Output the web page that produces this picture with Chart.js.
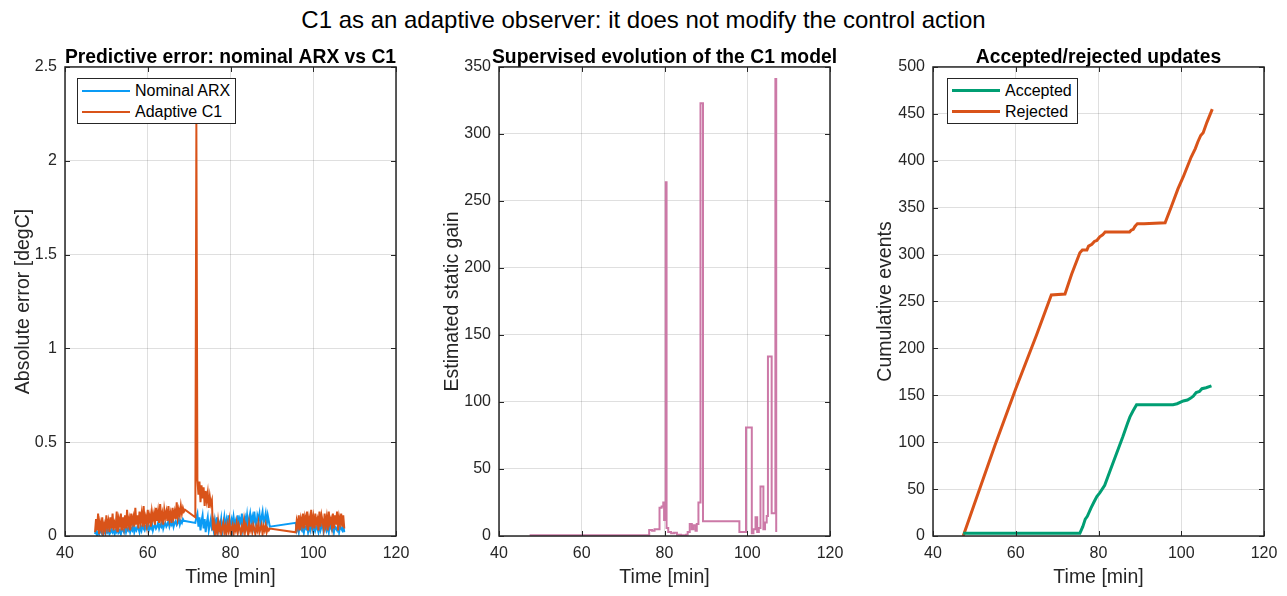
<!DOCTYPE html>
<html>
<head>
<meta charset="utf-8">
<title>C1 adaptive observer</title>
<script src="https://cdn.jsdelivr.net/npm/chart.js@4.4.0/dist/chart.umd.min.js"></script>
<style>
  html, body { margin: 0; padding: 0; background: #fff; }
  body { width: 1287px; height: 596px; position: relative; overflow: hidden;
         font-family: "Liberation Sans", Arial, sans-serif; }
  #suptitle { position: absolute; left: 0; top: 8px; width: 1287px; text-align: center;
              font-size: 24px; line-height: 24px; color: #000; }
  canvas { position: absolute; top: 40px; }
  .legend { position: absolute; top: 78px; background: #fff; border: 1px solid #262626;
            padding: 1px 5px 1px 4px; font-size: 16px; color: #000; }
  .legend .row { display: flex; align-items: center; height: 21px; white-space: nowrap; }
  .legend .swatch { display: inline-block; width: 48px; margin-right: 5px; }
</style>
</head>
<body>
<div id="suptitle">C1 as an adaptive observer: it does not modify the control action</div>

<canvas id="errChart" width="471" height="556" style="left:-5px"></canvas>
<canvas id="gainChart" width="471" height="556" style="left:429px"></canvas>
<canvas id="countChart" width="471" height="556" style="left:863px"></canvas>

<div class="legend" style="left:77px">
  <div class="row"><span class="swatch" style="height:2px;background:#0A9BF5"></span>Nominal ARX</div>
  <div class="row"><span class="swatch" style="height:2px;background:#D95319"></span>Adaptive C1</div>
</div>
<div class="legend" style="left:947px">
  <div class="row"><span class="swatch" style="height:3px;background:#009E73"></span>Accepted</div>
  <div class="row"><span class="swatch" style="height:3px;background:#D95319"></span>Rejected</div>
</div>

<script>
// ---- data ---------------------------------------------------------------
// predictive error, sampled every 0.25 min in three logged stretches
var sampleMin = 0.25;
var segStart = [47.25, 71.5, 95.75];

var nominalA = [0.01,0.03,0.00,0.02,0.01,0.04,0.02,0.01,0.03,0.02,
  0.01,0.04,0.02,0.03,0.01,0.02,0.04,0.02,0.03,0.01,
  0.03,0.02,0.05,0.02,0.03,0.01,0.04,0.03,0.02,0.05,
  0.02,0.04,0.03,0.05,0.02,0.04,0.03,0.06,0.02,0.04,
  0.03,0.05,0.04,0.02,0.05,0.03,0.06,0.04,0.03,0.05,
  0.04,0.06,0.03,0.05,0.04,0.07,0.03,0.05,0.06,0.04,
  0.05,0.07,0.04,0.06,0.05,0.08,0.04,0.06,0.07,0.05,
  0.06,0.08,0.05,0.07,0.06,0.09,0.05,0.07,0.08,0.06,
  0.07,0.09,0.06,0.08,0.07,0.09,0.08,0.08];
var nominalB = [0.07,0.10,
  0.12,0.05,0.10,0.03,0.08,0.11,0.04,0.09,0.02,0.07,0.10,0.03,0.06,0.09,0.04,
  0.05,0.02,0.08,0.04,0.10,0.03,0.07,0.05,0.09,0.02,
  0.06,0.10,0.04,0.08,0.03,0.11,0.05,0.07,0.09,0.04,
  0.10,0.06,0.08,0.03,0.11,0.05,0.09,0.07,0.12,0.04,
  0.08,0.10,0.06,0.11,0.05,0.09,0.12,0.07,0.10,0.06,
  0.13,0.08,0.05,0.11,0.09,0.12,0.06,0.10,0.13,0.07,
  0.09,0.12,0.06,0.11,0.08,0.05];
var nominalC = [0.07,0.03,0.05,0.02,0.06,0.04,0.03,0.07,0.02,0.05,
  0.04,0.06,0.02,0.05,0.03,0.07,0.04,0.02,0.06,0.03,
  0.05,0.04,0.02,0.06,0.03,0.05,0.07,0.02,0.04,0.06,
  0.03,0.05,0.02,0.07,0.04,0.03,0.06,0.02,0.05,0.04,
  0.03,0.06,0.02,0.05,0.04,0.03,0.06,0.02];

var adaptiveA = [0.02,0.09,0.03,0.12,0.01,0.07,0.04,0.10,0.02,0.06,
  0.03,0.11,0.05,0.08,0.02,0.10,0.04,0.12,0.03,0.07,
  0.05,0.13,0.02,0.09,0.06,0.12,0.03,0.10,0.05,0.11,
  0.04,0.14,0.06,0.09,0.03,0.12,0.07,0.10,0.05,0.15,
  0.06,0.11,0.04,0.13,0.08,0.12,0.05,0.16,0.07,0.10,
  0.06,0.14,0.08,0.11,0.05,0.13,0.09,0.12,0.06,0.15,
  0.08,0.13,0.07,0.17,0.09,0.12,0.06,0.14,0.10,0.13,
  0.08,0.16,0.09,0.12,0.07,0.15,0.10,0.13,0.09,0.18,
  0.10,0.14,0.11,0.16,0.12,0.15,0.13,0.14];
var adaptiveB = [0.10,2.20,0.30,
  0.22,0.29,0.18,0.27,0.20,0.26,0.16,0.24,0.19,0.23,0.15,0.21,0.17,0.19,
  0.03,0.07,0.01,0.05,0.02,0.08,0.03,0.06,0.01,0.04,
  0.07,0.02,0.05,0.01,0.06,0.03,0.08,0.02,0.04,0.06,
  0.01,0.05,0.03,0.07,0.02,0.06,0.04,0.01,0.05,0.03,
  0.08,0.02,0.06,0.04,0.01,0.07,0.03,0.05,0.02,0.06,
  0.04,0.01,0.05,0.03,0.07,0.02,0.04,0.06,0.01,0.05,
  0.03,0.06,0.02,0.04,0.03,0.04];
var adaptiveC = [0.02,0.08,0.05,0.11,0.03,0.09,0.06,0.12,0.04,0.10,
  0.07,0.13,0.03,0.09,0.05,0.14,0.06,0.10,0.04,0.12,
  0.07,0.09,0.03,0.13,0.05,0.11,0.08,0.04,0.12,0.06,
  0.10,0.03,0.13,0.07,0.09,0.05,0.12,0.04,0.11,0.06,
  0.13,0.03,0.10,0.07,0.12,0.05,0.11,0.04];

// estimated static gain of the C1 model (held between updates)
var gainTime = [47.4,76.3,77.0,77.6,78.8,79.3,79.7,79.9,80.3,80.5,80.9,81.6,82.3,83.0,84.0,
  85.2,85.6,86.1,86.6,87.0,87.5,87.8,88.2,88.7,89.3,98.1,99.7,101.1,101.5,102.0,
  102.4,102.8,103.2,103.9,104.3,104.7,105.0,105.9,106.8,107.0];
var gainValue = [0.5,4.5,4,5,21,22,25,12,264,6,3,2,2.5,1,0.5,
  1,3,9,5,8,4,9,25,323,11,3,81,2,5,14,
  3,6,37,5,10,15,134,17,341,3];

// cumulative accepted / rejected updates
var acceptedTime = [47.3,75.5,76.2,76.8,77.3,78.2,79.0,79.6,80.3,81.5,83.0,85.9,87.0,87.6,
  88.3,89.2,98.0,99.0,100.5,101.5,102.3,102.9,103.6,104.4,105.0,106.0,107.3];
var acceptedCount = [3,3,10,18,21,30,37,42,46,54,72,106,120,127,
  133,140,140,141,144,145,147,149,153,154,157,158,160];
var rejectedTime = [47.3,50.0,55.0,60.0,65.0,68.6,71.9,73.5,75.5,76.1,77.2,77.6,78.4,79.0,
  79.6,80.3,81.0,81.6,87.5,87.9,88.4,88.8,89.4,91.0,96.1,97.5,99.2,100.5,102.4,
  103.4,104.0,104.7,105.3,106.2,107.5];
var rejectedCount = [0,34,97,157,214,257,258,279,302,305,305,309,311,314,
  315,319,321,324,324,326,327,330,333,333,334,350,370,383,404,
  413,420,427,430,441,455];

// ---- helpers -------------------------------------------------------------
var FONT = '"Liberation Sans", Arial, sans-serif';
var AXIS = '#262626';
var GRID = 'rgba(38,38,38,0.15)';

function sampled(segments) {
  var pts = [];
  segments.forEach(function(vals, k) {
    vals.forEach(function(v, i) {
      pts.push({ x: segStart[k] + i * sampleMin, y: v });
    });
  });
  return pts;
}

function pairs(xs, ys) {
  return xs.map(function(x, i) { return { x: x, y: ys[i] }; });
}

// plain number labels like MATLAB: 0, 0.5, 1, 1.5 ...
function plainTick(v) { return String(+v.toFixed(3)); }

// MATLAB-like box with inward ticks on all four sides
var axesBox = {
  id: 'axesBox',
  afterDatasetsDraw: function(chart) {
    var ctx = chart.ctx, a = chart.chartArea, sx = chart.scales.x, sy = chart.scales.y;
    var tl = 5;
    ctx.save();
    ctx.strokeStyle = AXIS;
    ctx.lineWidth = 1;
    ctx.beginPath();
    sx.ticks.forEach(function(t) {
      var p = Math.round(sx.getPixelForValue(t.value)) + 0.5;
      ctx.moveTo(p, a.bottom); ctx.lineTo(p, a.bottom - tl);
      ctx.moveTo(p, a.top); ctx.lineTo(p, a.top + tl);
    });
    sy.ticks.forEach(function(t) {
      var p = Math.round(sy.getPixelForValue(t.value)) + 0.5;
      ctx.moveTo(a.left, p); ctx.lineTo(a.left + tl, p);
      ctx.moveTo(a.right, p); ctx.lineTo(a.right - tl, p);
    });
    ctx.stroke();
    ctx.lineWidth = 1.5;
    ctx.strokeRect(a.left, a.top, a.right - a.left, a.bottom - a.top);
    ctx.restore();
  }
};

function panelOptions(title, yTitle, yMax, yStep, yTitlePad) {
  return {
    responsive: false,
    animation: false,
    devicePixelRatio: 1,
    layout: { padding: 0 },
    elements: { point: { radius: 0 }, line: { tension: 0 } },
    plugins: {
      legend: { display: false },
      tooltip: { enabled: false },
      title: {
        display: true, text: title, color: '#000',
        font: { family: FONT, size: 19.3, weight: 'bold', lineHeight: 0.9 },
        padding: { top: 9.2, bottom: 0.4 }
      }
    },
    scales: {
      x: {
        type: 'linear', min: 40, max: 120,
        ticks: { stepSize: 20, color: AXIS, font: { family: FONT, size: 16 }, padding: 8,
                 maxRotation: 0, callback: plainTick },
        grid: { color: GRID, drawTicks: false },
        border: { display: false },
        title: { display: true, text: 'Time [min]', color: AXIS,
                 font: { family: FONT, size: 19.5 }, padding: { top: 0, bottom: 6.8 } },
        afterFit: function(s) { s.height = 60; }
      },
      y: {
        type: 'linear', min: 0, max: yMax,
        ticks: { stepSize: yStep, color: AXIS, font: { family: FONT, size: 16 }, padding: 8,
                 callback: plainTick },
        grid: { color: GRID, drawTicks: false },
        border: { display: false },
        title: { display: true, text: yTitle, color: AXIS,
                 font: { family: FONT, size: 19.5 }, padding: { top: yTitlePad, bottom: 0 } },
        afterFit: function(s) { s.width = 70; }
      },
      // empty right-hand margin so the panel title centres over the axes
      yPad: {
        type: 'linear', position: 'right', min: 0, max: yMax,
        ticks: { display: false }, grid: { display: false }, border: { display: false },
        afterFit: function(s) { s.width = 70; }
      }
    }
  };
}

// ---- charts --------------------------------------------------------------
new Chart(document.getElementById('errChart'), {
  type: 'line',
  data: {
    datasets: [{
      label: 'Nominal ARX',
      data: sampled([nominalA, nominalB, nominalC]),
      borderColor: '#0A9BF5', borderWidth: 2, order: 1
    }, {
      label: 'Adaptive C1',
      data: sampled([adaptiveA, adaptiveB, adaptiveC]),
      borderColor: '#D95319', borderWidth: 2, order: 0
    }]
  },
  options: panelOptions('Predictive error: nominal ARX vs C1', 'Absolute error [degC]', 2.5, 0.5, 16.5),
  plugins: [axesBox]
});

new Chart(document.getElementById('gainChart'), {
  type: 'line',
  data: {
    datasets: [{
      label: 'Static gain',
      data: pairs(gainTime, gainValue),
      borderColor: '#CC79A7', borderWidth: 2, stepped: true
    }]
  },
  options: panelOptions('Supervised evolution of the C1 model', 'Estimated static gain', 350, 50, 11.5),
  plugins: [axesBox]
});

new Chart(document.getElementById('countChart'), {
  type: 'line',
  data: {
    datasets: [{
      label: 'Accepted',
      data: pairs(acceptedTime, acceptedCount),
      borderColor: '#009E73', borderWidth: 3
    }, {
      label: 'Rejected',
      data: pairs(rejectedTime, rejectedCount),
      borderColor: '#D95319', borderWidth: 3
    }]
  },
  options: panelOptions('Accepted/rejected updates', 'Cumulative events', 500, 50, 10.5),
  plugins: [axesBox]
});
</script>
</body>
</html>
